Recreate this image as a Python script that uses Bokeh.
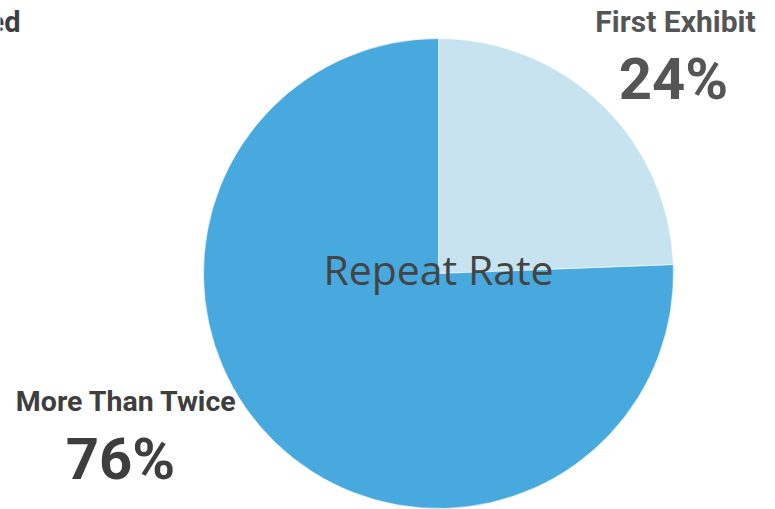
import math
from bokeh.plotting import figure
from bokeh.models import Range1d, ColumnDataSource
from bokeh.core.properties import value
from bokeh.embed import file_html
from bokeh.resources import INLINE

# Data
categories = ["First Exhibit", "More Than Twice"]
shares = [24.4, 75.6]
pct_labels = ["24%", "76%"]
colors = ["#C8E3F0", "#48A9DE"]
center_label = "Repeat Rate"

W, H = 775, 509
p = figure(width=W, height=H, output_backend="svg", toolbar_location=None,
           x_range=Range1d(0, W), y_range=Range1d(0, H), min_border=0,
           tools="")
p.axis.visible = False
p.grid.visible = False
p.outline_line_color = None
p.background_fill_color = "white"

total = sum(shares)
starts, ends = [], []
cum = 0.0
for s in shares:
    starts.append(math.pi / 2 - 2 * math.pi * cum / total)
    cum += s
    ends.append(math.pi / 2 - 2 * math.pi * cum / total)

src = ColumnDataSource(dict(start=starts, end=ends, color=colors, cat=categories))
cx, cy, r = 438, 236, 235
p.wedge(x=cx, y=cy, radius=r, radius_units="screen", start_angle="start", end_angle="end",
        direction="clock", fill_color="color", line_color="white", line_alpha=0.6,
        line_width=1, source=src)

lab = value("Roboto")

# Slice labels
p.text(x=[675], y=[488], text=[categories[0]], text_font=lab, text_font_style="bold",
       text_font_size="30px", text_color="#555555", text_align="center",
       text_baseline="alphabetic")
p.text(x=[673], y=[431], text=[pct_labels[0]], text_font=lab, text_font_style="bold",
       text_font_size="58px", text_color="#555555", text_align="center",
       text_baseline="alphabetic")
p.text(x=[126], y=[108], text=[categories[1]], text_font=lab, text_font_style="bold",
       text_font_size="28.5px", text_color="#3E3E3E", text_align="center",
       text_baseline="alphabetic")
p.text(x=[120], y=[51], text=[pct_labels[1]], text_font=lab, text_font_style="bold",
       text_font_size="58px", text_color="#3E3E3E", text_align="center",
       text_baseline="alphabetic")

# Cut-off title fragment at top left
p.text(x=[20], y=[488], text=["ed"], text_font=lab, text_font_style="bold",
       text_font_size="29px", text_color="#3E3E3E", text_align="right",
       text_baseline="alphabetic")

# Center label
p.text(x=[cx], y=[241], text=[center_label], text_font=value("Open Sans"),
       text_font_style="normal", text_font_size="41px", text_color="#444444",
       text_align="center", text_baseline="alphabetic")

open("out.html", "w").write(file_html(p, INLINE))
